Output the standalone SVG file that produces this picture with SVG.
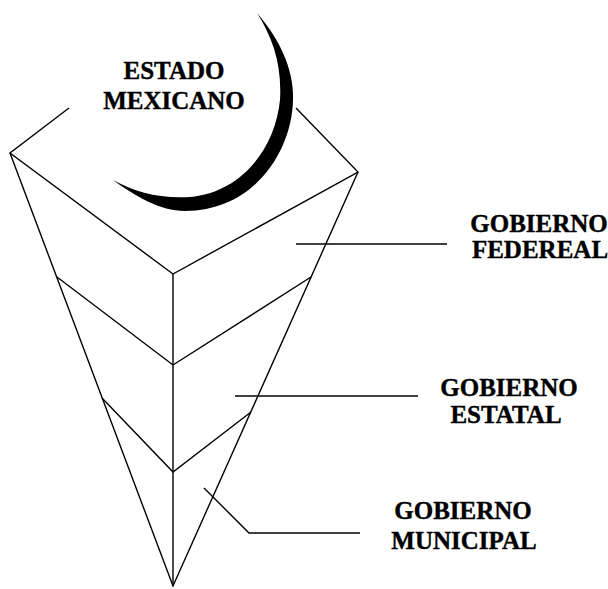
<svg xmlns="http://www.w3.org/2000/svg" width="608" height="589" viewBox="0 0 608 589">
<style>
.ln{fill:none;stroke:#000;stroke-width:1.4;stroke-linejoin:miter;stroke-linecap:butt}
.t{font-family:"Liberation Serif","Times New Roman",serif;font-weight:bold;font-size:25px;fill:#000;stroke:#000;stroke-width:0.4;text-anchor:middle}
</style>
<rect width="608" height="589" fill="#fff"/>
<g id="pyramid">
<path class="ln" d="M69,108 L10,153 L173,274 L358,172 L296,108"/>
<path class="ln" d="M10,153 L173,586 L358,172"/>
<path class="ln" d="M173,274 L173,586"/>
<path class="ln" d="M57,277 L173,365 L311,277"/>
<path class="ln" d="M102,398 L173,472 L251,412"/>
</g>
<g id="estado-mexicano">
<path d="M257,13 C282,42 294,72 293,100 C292,150 255,211 185,211 C160,211 135,196 113,180 C135,192 160,199 190,197 C240,193 275,150 280,100 C282,65 273,38 257,13 Z" fill="#000"/>
<text class="t" x="174" y="79">ESTADO</text>
<text class="t" x="174" y="109">MEXICANO</text>
</g>
<g id="connectors">
<path class="ln" d="M296,244 L447,244"/>
<path class="ln" d="M235,396 L418,396"/>
<path class="ln" d="M204,488 L249,533 L360,533"/>
</g>
<g id="gobierno-federal">
<text class="t" x="539" y="232">GOBIERNO</text>
<text class="t" x="540" y="258">FEDEREAL</text>
</g>
<g id="gobierno-estatal">
<text class="t" x="509" y="396">GOBIERNO</text>
<text class="t" x="506" y="423">ESTATAL</text>
</g>
<g id="gobierno-municipal">
<text class="t" x="463" y="519">GOBIERNO</text>
<text class="t" x="464" y="549">MUNICIPAL</text>
</g>
</svg>
